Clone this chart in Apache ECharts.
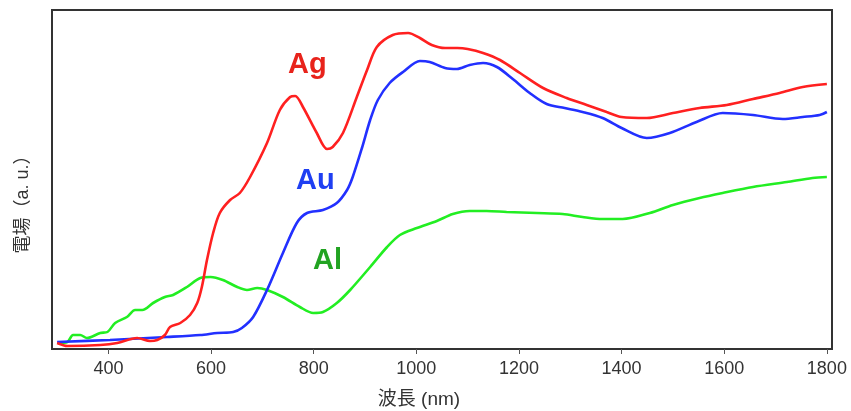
<!DOCTYPE html>
<html><head><meta charset="utf-8">
<script src="https://cdn.jsdelivr.net/npm/echarts@6/dist/echarts.min.js"></script>
<style>html,body{margin:0;padding:0;background:#fff}#c{width:851px;height:411px}</style>
</head><body><div id="c"></div>
<script>
// wavelength (nm) and field (a.u.)
const agX = [300,320,384,417,456,481,495,510,520,540,559,573,582,592,604,617,637,656,676,709,734,754,764,779,806,826,837,857,884,904,923,954,984,1007,1030,1056,1080,1100,1130,1163,1202,1247,1293,1332,1371,1400,1449,1500,1552,1605,1656,1708,1753,1800];
const agY = [6,3,4,6,11,8,9,14,22,26,34,46,62,89,116,136,149,156,172,206,239,252,253,242,216,200,202,216,252,279,302,314,316,311,304,301,301,300,296,289,276,261,251,244,237,232,231,236,241,244,250,256,262,265];

const auX = [300,403,514,579,612,643,660,682,709,740,767,787,818,845,865,876,894,910,925,948,974,1007,1026,1056,1079,1104,1130,1157,1188,1221,1254,1289,1324,1363,1400,1449,1494,1546,1597,1656,1714,1753,1786,1800];
const auY = [7,9,12,14,16,17,21,32,59,96,126,136,139,146,159,172,201,229,249,266,277,288,287,281,280,284,286,282,270,256,245,241,237,231,221,211,216,227,236,234,230,232,234,237];

const alX = [302,320,331,345,358,384,398,413,436,452,466,487,510,526,553,579,599,623,651,670,690,709,740,773,799,818,845,871,910,943,968,1001,1040,1071,1104,1137,1176,1235,1285,1324,1363,1402,1455,1500,1552,1597,1656,1722,1772,1800];
const alY = [6,7,14,14,11,16,17,26,32,39,39,46,52,54,62,71,72,69,62,59,61,59,52,42,36,37,46,59,82,102,114,121,128,135,138,138,137,136,135,132,130,130,136,144,151,156,162,167,171,172];

const xTicks = [400,600,800,1000,1200,1400,1600,1800];
const seriesNames = ['Ag','Au','Al'];

const zip = (xs, ys) => xs.map((x, i) => [x, ys[i]]);
const chart = echarts.init(document.getElementById('c'), null, {renderer: 'canvas'});
const lineS = (name, data, color) => ({
  name, type: 'line', data, symbol: 'none', smooth: 0.3,
  lineStyle: {color, width: 2.6}, itemStyle: {color}, z: 3
});
chart.setOption({
  animation: false,
  backgroundColor: '#fff',
  grid: {left: 52, right: 19, top: 10, bottom: 62, show: true, borderColor: '#333', borderWidth: 2, backgroundColor: 'transparent'},
  xAxis: {
    type: 'value', min: 290, max: 1810,
    axisLine: {show: false},
    splitLine: {show: false},
    axisTick: {show: true, length: 5, inside: false, lineStyle: {color: '#555', width: 1}, customValues: xTicks},
    axisLabel: {customValues: xTicks, formatter: v => String(v), color: '#333', fontSize: 18, fontFamily: 'Liberation Sans, Arial, sans-serif', margin: 11}
  },
  yAxis: {type: 'value', min: 0, max: 339, show: false, splitLine: {show: false}},
  series: [
    lineS(seriesNames[2], zip(alX, alY), '#22ee22'),
    lineS(seriesNames[1], zip(auX, auY), '#2230ff'),
    lineS(seriesNames[0], zip(agX, agY), '#ff2020')
  ],
  graphic: [
    {type: 'text', left: 288, top: 50, style: {text: 'Ag', fill: '#e8231b', font: 'bold 29px "Liberation Sans", Arial, sans-serif'}},
    {type: 'text', left: 296, top: 166, style: {text: 'Au', fill: '#1f3ff2', font: 'bold 29px "Liberation Sans", Arial, sans-serif'}},
    {type: 'text', left: 313, top: 246, style: {text: 'Al', fill: '#22a322', font: 'bold 29px "Liberation Sans", Arial, sans-serif'}},
    {type: 'text', x: 419, y: 400, style: {text: '波長 (nm)', fill: '#333', align: 'center', verticalAlign: 'middle', font: '19px "Liberation Sans", "Noto Sans CJK JP", sans-serif'}},
    {type: 'text', x: 23, y: 200, rotation: Math.PI / 2, style: {text: '電場（a. u.）', fill: '#333', align: 'center', verticalAlign: 'middle', font: '18px "Liberation Sans", "Noto Sans CJK JP", sans-serif'}}
  ]
});
</script></body></html>
